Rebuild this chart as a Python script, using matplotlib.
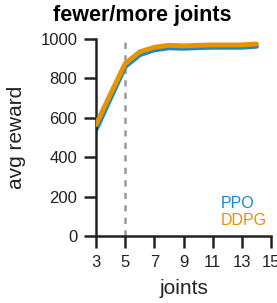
import matplotlib
matplotlib.use("Agg")
import matplotlib.pyplot as plt

plt.rcParams["font.family"] = ["Liberation Sans", "DejaVu Sans"]

joints = [3, 4, 5, 6, 7, 8, 9, 10, 11, 12, 13, 14]
ppo = [540, 700, 860, 920, 945, 955, 953, 956, 958, 958, 958, 963]
ddpg = [565, 722, 875, 935, 958, 968, 965, 968, 970, 970, 970, 975]
xticks = [3, 5, 7, 9, 11, 13, 15]
yticks = [0, 200, 400, 600, 800, 1000]
train_joints = 5

BLUE = "#1a88c8"
ORANGE = "#e59400"
DARK = "#222222"

fig = plt.figure(figsize=(2.77, 3.03), dpi=100)
ax = fig.add_axes([96 / 277, 67 / 303, 175 / 277, 197 / 303])

ax.axvline(train_joints, color="#999999", linestyle=(0, (2.5, 2.5)), linewidth=1.8, zorder=1)
ax.plot(joints, ppo, color=BLUE, linewidth=3.5, solid_capstyle="round", zorder=2)
ax.plot(joints, ddpg, color=ORANGE, linewidth=3.5, solid_capstyle="round", zorder=3)

ax.set_xlim(3, 15)
ax.set_ylim(0, 1000)
ax.set_xticks(xticks)
ax.set_yticks(yticks)
ax.tick_params(width=1.8, length=8.5, pad=5, labelsize=12, color=DARK, labelcolor=DARK)
for side in ("top", "right"):
    ax.spines[side].set_visible(False)
for side in ("left", "bottom"):
    ax.spines[side].set_linewidth(1.8)
    ax.spines[side].set_color(DARK)
ax.spines["bottom"].set_clip_on(False)

ax.set_xlabel("joints", fontsize=15, color=DARK, labelpad=7)
ax.set_ylabel("avg reward", fontsize=15, color=DARK, labelpad=10)
fig.text(142 / 277, 1 - 15 / 303, "fewer/more joints", fontsize=15.5, fontweight="bold",
         ha="center", va="center")

ax.text(11.55, 167, "PPO", color=BLUE, fontsize=11.5, ha="left", va="center")
ax.text(11.55, 81, "DDPG", color=ORANGE, fontsize=11.5, ha="left", va="center")

fig.savefig("out.png", dpi=100)
